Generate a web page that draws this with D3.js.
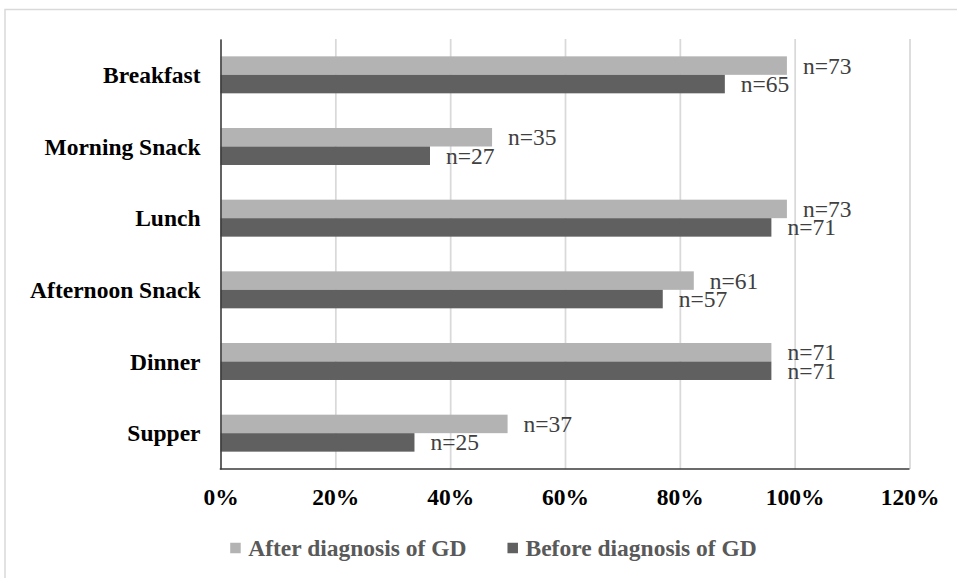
<!DOCTYPE html>
<html>
<head>
<meta charset="utf-8">
<script src="https://cdn.jsdelivr.net/npm/d3@7/dist/d3.min.js"></script>
<style>
  html, body { margin: 0; padding: 0; background: #fff; }
  svg { display: block; }
  svg text { font-family: "Liberation Serif", "Times New Roman", Tinos, "DejaVu Serif", serif !important; }
</style>
</head>
<body>
<svg id="chart" width="957" height="578"></svg>
<script>
// Meals eaten before and after diagnosis of GD (number of women, of 74)
const categories = ["Breakfast", "Morning Snack", "Lunch", "Afternoon Snack", "Dinner", "Supper"];
const seriesNames = ["After diagnosis of GD", "Before diagnosis of GD"];
const afterCounts = [73, 35, 73, 61, 71, 37];
const beforeCounts = [65, 27, 71, 57, 71, 25];
const sampleSize = 74;
const tickValues = [0, 0.2, 0.4, 0.6, 0.8, 1.0, 1.2];
const tickLabels = ["0%", "20%", "40%", "60%", "80%", "100%", "120%"];
const seriesColors = ["#b3b3b3", "#606060"];

const serif = "'Liberation Serif', 'Times New Roman', Tinos, 'DejaVu Serif', serif";
const svg = d3.select("#chart");

// outer chart frame
svg.append("path")
  .attr("d", "M5,578 V9.5 H957")
  .attr("fill", "none")
  .attr("stroke", "#d9d9d9")
  .attr("stroke-width", 1.5);

const plot = { left: 220.5, right: 909.5, top: 39, bottom: 469 };

const x = d3.scaleLinear().domain([0, 1.2]).range([plot.left, plot.right]);
const y = d3.scaleBand().domain(categories)
  .range([plot.top, plot.bottom])
  .paddingInner(0.484).paddingOuter(0.242);
const ySub = d3.scaleBand().domain(seriesNames).range([0, y.bandwidth()]);

// vertical gridlines from the bottom axis
const xAxis = d3.axisBottom(x)
  .tickValues(tickValues)
  .tickFormat((d, i) => tickLabels[i])
  .tickSize(-(plot.bottom - plot.top))
  .tickSizeOuter(0);

const gx = svg.append("g")
  .attr("transform", `translate(0,${plot.bottom})`)
  .call(xAxis)
  .attr("font-family", serif);
gx.select(".domain").remove();
gx.selectAll(".tick line")
  .attr("stroke", "#d9d9d9")
  .attr("stroke-width", 1.75);
gx.selectAll(".tick text")
  .attr("y", 36)
  .attr("dy", 0)
  .attr("fill", "#000")
  .attr("font-size", 23.5)
  .attr("font-weight", "bold");

// bars
const rows = categories.map((c, i) => ({
  category: c,
  values: [
    { series: seriesNames[0], n: afterCounts[i], color: seriesColors[0] },
    { series: seriesNames[1], n: beforeCounts[i], color: seriesColors[1] }
  ]
}));

const groups = svg.append("g")
  .attr("font-family", serif)
  .selectAll("g")
  .data(rows)
  .join("g")
  .attr("transform", d => `translate(0,${y(d.category)})`);

groups.selectAll("rect")
  .data(d => d.values)
  .join("rect")
  .attr("x", x(0))
  .attr("y", d => ySub(d.series))
  .attr("width", d => x(d.n / sampleSize) - x(0))
  .attr("height", ySub.bandwidth())
  .attr("fill", d => d.color);

groups.selectAll("text.value")
  .data(d => d.values)
  .join("text")
  .attr("class", "value")
  .attr("x", d => x(d.n / sampleSize) + 16)
  .attr("y", d => ySub(d.series) + ySub.bandwidth() / 2 + 8)
  .attr("font-size", 23.5)
  .attr("fill", "#404040")
  .text(d => `n=${d.n}`);

// category axis
const yAxis = d3.axisLeft(y).tickSize(0).tickPadding(20);
const gy = svg.append("g")
  .attr("transform", `translate(${plot.left},0)`)
  .call(yAxis)
  .attr("font-family", serif);
gy.select(".domain")
  .attr("stroke", "#3a3a3a")
  .attr("stroke-width", 1.5);
gy.selectAll(".tick text")
  .attr("dy", 0)
  .attr("y", 8)
  .attr("fill", "#000")
  .attr("font-size", 23.5)
  .attr("font-weight", "bold");

svg.append("line")
  .attr("x1", plot.left - 0.75).attr("x2", plot.right)
  .attr("y1", plot.bottom).attr("y2", plot.bottom)
  .attr("stroke", "#3a3a3a")
  .attr("stroke-width", 1.5);

// legend
const legend = svg.append("g")
  .attr("font-family", serif)
  .attr("font-size", 23.5)
  .attr("font-weight", "bold");
const swatch = 10.5, swGap = 7.5, itemGap = 41;
const items = legend.selectAll("g")
  .data(seriesNames.map((s, i) => ({ name: s, color: seriesColors[i] })))
  .join("g");
items.append("rect")
  .attr("width", swatch).attr("height", swatch)
  .attr("y", 548 - swatch / 2)
  .attr("fill", d => d.color);
items.append("text")
  .attr("x", swatch + swGap)
  .attr("y", 556)
  .attr("fill", "#595959")
  .text(d => d.name);
let widths = [];
items.each(function () { widths.push(this.getBBox().width); });
const total = d3.sum(widths) + itemGap * (widths.length - 1);
let cursor = 493.5 - total / 2;
items.attr("transform", (d, i) => {
  const t = `translate(${cursor},0)`;
  cursor += widths[i] + itemGap;
  return t;
});
</script>
</body>
</html>
